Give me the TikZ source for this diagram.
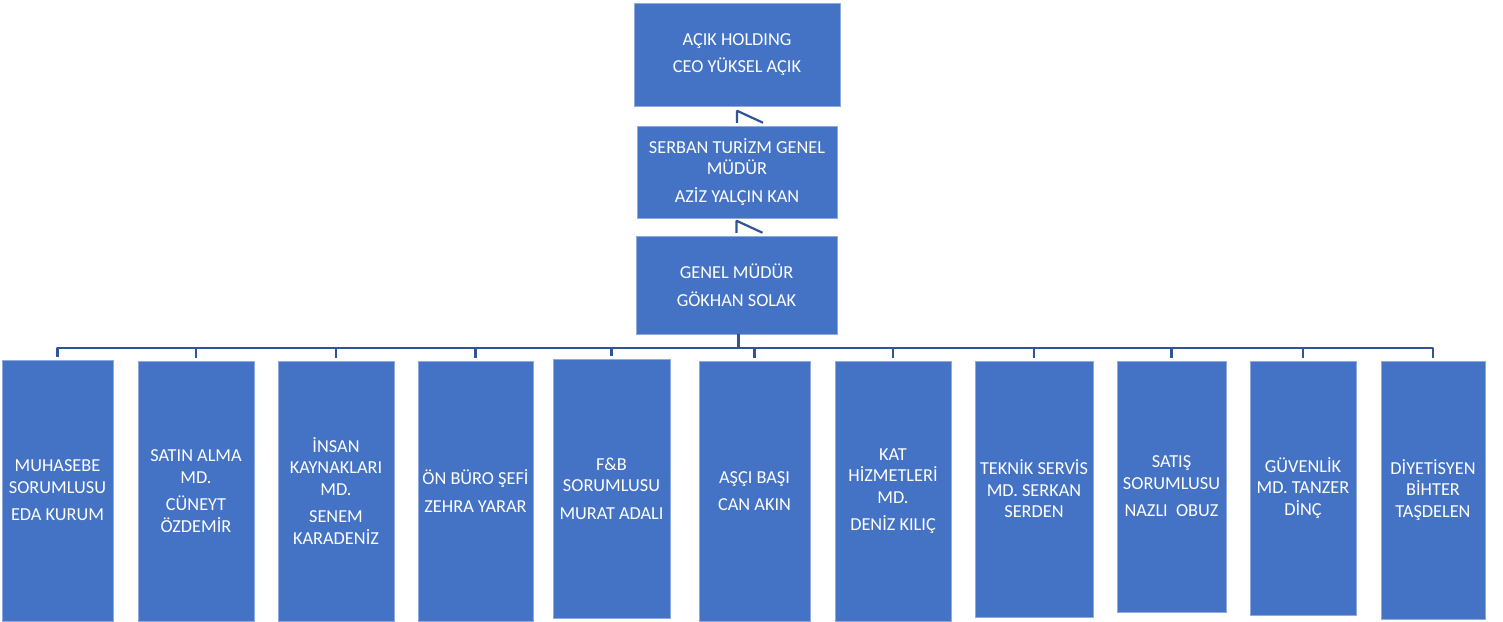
\documentclass[tikz,border=0pt]{standalone}
\usepackage{fontspec}
\setmainfont{Carlito}
\usetikzlibrary{positioning}
\definecolor{boxblue}{HTML}{4472C4}
\definecolor{linkblue}{HTML}{2F5597}

\begin{document}
\begin{tikzpicture}[x=1pt, y=-1pt]
        \tikzstyle{box} = [rectangle, inner sep=0pt, align=center, text=white, fill=boxblue, draw=boxblue!60!white, line width=0.5pt, font=\fontsize{18.3}{21.5}\selectfont]
        \tikzstyle{link} = [line width=2.2pt, draw=linkblue, line join=bevel]
        \useasboundingbox (0,0) rectangle (1503,621);
        \node (holding) [box, minimum width=206pt, minimum height=103pt] at (737,54.5) {AÇIK HOLDING\\[6pt]CEO YÜKSEL AÇIK};
        \node (serban) [box, minimum width=200pt, minimum height=92pt] at (737,172) {SERBAN TURİZM GENEL\\MÜDÜR\\[6pt]AZİZ YALÇIN KAN};
        \node (genel) [box, minimum width=201pt, minimum height=98pt] at (736.5,285) {GENEL MÜDÜR\\[6pt]GÖKHAN SOLAK};
        \node (muhasebe) [box, minimum width=111pt, minimum height=261pt] at (57.5,490.5) {MUHASEBE\\SORUMLUSU\\[6pt]EDA KURUM};
        \node (satin) [box, minimum width=116pt, minimum height=260pt] at (196,491) {SATIN ALMA\\MD.\\[6pt]CÜNEYT\\ÖZDEMİR};
        \node (insan) [box, minimum width=116pt, minimum height=260pt] at (336,491) {İNSAN\\KAYNAKLARI\\MD.\\[6pt]SENEM\\KARADENİZ};
        \node (onburo) [box, minimum width=115pt, minimum height=260pt] at (475.5,491) {ÖN BÜRO ŞEFİ\\[6pt]ZEHRA YARAR};
        \node (fb) [box, minimum width=117pt, minimum height=259pt] at (611.5,488.5) {F\&B\\SORUMLUSU\\[6pt]MURAT ADALI};
        \node (asci) [box, minimum width=111pt, minimum height=260pt] at (754.5,491) {AŞÇI BAŞI\\[6pt]CAN AKIN};
        \node (kat) [box, minimum width=116pt, minimum height=260pt] at (893,491) {KAT\\HİZMETLERİ\\MD.\\[6pt]DENİZ KILIÇ};
        \node (teknik) [box, minimum width=118pt, minimum height=256pt] at (1034,489) {TEKNİK SERVİS\\MD. SERKAN\\SERDEN};
        \node (satis) [box, minimum width=109pt, minimum height=251pt] at (1171.5,486.5) {SATIŞ\\SORUMLUSU\\[6pt]NAZLI\ \ OBUZ};
        \node (guvenlik) [box, minimum width=106pt, minimum height=254pt] at (1303,488) {GÜVENLİK\\MD. TANZER\\DİNÇ};
        \node (diyet) [box, minimum width=104pt, minimum height=258pt] at (1433,490) {DİYETİSYEN\\BİHTER\\TAŞDELEN};
        \draw [link] ([yshift=3pt]serban.north) -- ++(0,-12) -- ++(26,12);
        \draw [link] ([yshift=3pt]genel.north) -- ++(0,-12) -- ++(26,12);
        \coordinate (bus) at (738,348);
        \draw [line width=3pt, draw=linkblue] (genel.south -| bus) -- (bus);
        \foreach \child in {muhasebe,satin,insan,onburo,fb,asci,kat,teknik,satis,guvenlik,diyet}
            \draw [link] (bus) -| ([yshift=3pt]\child.north);
    \end{tikzpicture}
\end{document}
